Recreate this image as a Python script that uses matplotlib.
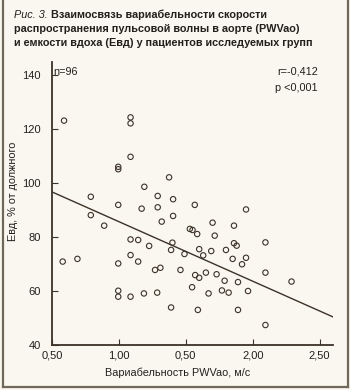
import matplotlib
matplotlib.use("Agg")
import matplotlib.pyplot as plt
from matplotlib.lines import Line2D
import numpy as np

# ---- data ----
pwv = [0.59, 1.087, 1.087, 1.087, 0.995, 0.995, 1.19, 0.79, 0.995, 1.17,
       0.79, 0.89, 1.087, 1.144, 1.226, 1.087, 1.144, 0.58, 0.69, 0.995,
       0.995, 0.995, 1.087, 1.187, 1.286, 1.39, 1.27, 1.31, 1.32, 1.29,
       1.29, 1.375, 1.405, 1.40, 1.39, 1.405, 1.567, 1.95, 1.70, 1.86,
       1.53, 1.55, 1.585, 1.716, 1.86, 1.88, 1.49, 1.63, 1.60, 1.69,
       1.80, 1.85, 1.95, 1.92, 1.46, 1.57, 1.60, 1.65, 1.73, 1.79,
       1.89, 1.965, 1.547, 1.67, 1.77, 1.82, 1.59, 1.89, 2.095, 2.095,
       2.29, 2.095]
evd = [123.1, 124.3, 122.1, 109.7, 106.0, 105.1, 98.6, 94.9, 91.9, 90.5,
       88.1, 84.2, 79.1, 78.9, 76.7, 73.3, 70.9, 70.9, 71.9, 70.2,
       60.1, 57.9, 57.9, 59.1, 59.4, 53.9, 67.8, 68.6, 85.7, 91.0,
       95.2, 102.1, 94.0, 77.9, 75.2, 87.8, 91.9, 90.2, 85.3, 84.2,
       83.0, 82.6, 81.1, 80.5, 77.7, 76.8, 73.7, 73.2, 75.5, 74.8,
       75.2, 71.9, 72.3, 69.9, 67.8, 65.9, 64.9, 66.8, 66.2, 63.8,
       63.3, 60.0, 61.4, 59.1, 60.2, 59.4, 53.0, 53.0, 78.0, 66.8,
       63.5, 47.4]
fit_x = [0.5, 2.6]
fit_y = [96.7, 50.4]
x_ticks = [0.5, 1.0, 1.5, 2.0, 2.5]
x_tick_labels = ["0,50", "1,00", "0,50", "2,00", "2,50"]
y_ticks = [40, 60, 80, 100, 120, 140]
y_tick_labels = ["40", "60", "80", "100", "120", "140"]

W, H = 350, 390
bg = "#faf7f0"
ink = "#3b3228"
txt = "#231f1b"
plt.rcParams['font.family'] = ['Liberation Sans', 'DejaVu Sans']

fig = plt.figure(figsize=(W / 100, H / 100), dpi=100, facecolor=bg)
ax = fig.add_axes([52 / W, (H - 345) / H, (333 - 52) / W, (345 - 61.5) / H])
ax.set_facecolor(bg)

ax.scatter(pwv, evd, s=15, facecolors='none', edgecolors=ink, linewidths=0.8, zorder=3)
ax.plot(fit_x, fit_y, color=ink, lw=1.0, zorder=2)

ax.set_xlim(0.5, 2.6)
ax.set_ylim(40, 145)
ax.set_xticks(x_ticks)
ax.set_xticklabels(x_tick_labels)
ax.set_yticks(y_ticks)
ax.set_yticklabels(y_tick_labels)
for s in ['top', 'right']:
    ax.spines[s].set_visible(False)
for s in ['left', 'bottom']:
    ax.spines[s].set_color(ink)
    ax.spines[s].set_linewidth(1.3)
ax.tick_params(direction='in', length=4, width=0.8, color=ink,
               labelsize=8, labelcolor=txt, pad=4)
ax.tick_params(axis='y', pad=8)

ax.text(0.5 + 1.5 / 134, 145 - 10.5 / 2.7, "n=96", fontsize=7.8, color=txt,
        ha='left', va='center')
fig.text(318 / W, 1 - 72 / H, "r=-0,412", fontsize=7.8, color=txt, ha='right', va='center')
fig.text(318 / W, 1 - 88 / H, "p <0,001", fontsize=7.8, color=txt, ha='right', va='center')

fig.text(178 / W, 1 - 373 / H, "Вариабельность PWVao, м/с", fontsize=7.8, color=txt,
         ha='center', va='center')
fig.text(13 / W, 1 - 191 / H, "Евд, % от должного", fontsize=7.8, color=txt,
         ha='center', va='center', rotation=90)

# title
t = fig.text(14 / W, 1 - 15 / H, "Рис. 3. ", fontsize=7.8, color=txt, style='italic',
             ha='left', va='center')
fig.canvas.draw()
bb = t.get_window_extent()
fig.text(bb.x1 / W, 1 - 15 / H, "Взаимосвязь вариабельности скорости", fontsize=7.8,
         color=txt, weight='bold', ha='left', va='center')
fig.text(14 / W, 1 - 29 / H, "распространения пульсовой волны в аорте (PWVao)",
         fontsize=7.8, color=txt, weight='bold', ha='left', va='center')
fig.text(14 / W, 1 - 43 / H, "и емкости вдоха (Евд) у пациентов исследуемых групп",
         fontsize=7.8, color=txt, weight='bold', ha='left', va='center')

# frame
fc = "#6f675b"
fig.add_artist(Line2D([2.5 / W, 2.5 / W], [1 - 386.5 / H, 1.0], transform=fig.transFigure, color=fc, lw=1.6))
fig.add_artist(Line2D([347.5 / W, 347.5 / W], [1 - 386.5 / H, 1.0], transform=fig.transFigure, color=fc, lw=1.6))
fig.add_artist(Line2D([2.5 / W, 347.5 / W], [1 - 386.5 / H, 1 - 386.5 / H], transform=fig.transFigure, color=fc, lw=1.6))

fig.savefig("out.png", dpi=100, facecolor=bg)
